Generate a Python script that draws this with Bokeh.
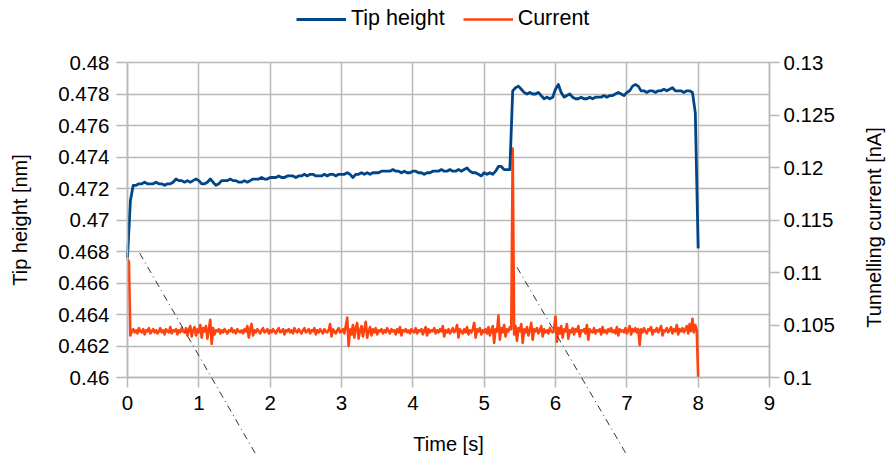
import math
from bokeh.plotting import figure
from bokeh.models import (Range1d, LinearAxis, FixedTicker, PrintfTickFormatter,
                          Legend, LegendItem, Arrow, ColumnDataSource, Grid, Label)
from bokeh.embed import file_html
from bokeh.resources import INLINE

# ---------------- data ----------------
time_height_s = [round(0.04 * i, 2) for i in range(201)]
time_current_s = [round(0.02 * i, 2) for i in range(401)]

tip_height_nm = [
    0.4676, 0.4712, 0.4722, 0.4722, 0.4723, 0.4723, 0.4724, 0.4723, 0.4723, 0.4723,
    0.4724, 0.4723, 0.4723, 0.4722, 0.4723, 0.4723, 0.4724, 0.4726, 0.4725, 0.4725,
    0.4724, 0.4725, 0.4724, 0.4725, 0.4726, 0.4725, 0.4723, 0.4723, 0.4724, 0.4726,
    0.4724, 0.4722, 0.4723, 0.4725, 0.4725, 0.4725, 0.4726, 0.4725, 0.4725, 0.4724,
    0.4724, 0.4725, 0.4724, 0.4725, 0.4726, 0.4726, 0.4726, 0.4727, 0.4726, 0.4726,
    0.4727, 0.4727, 0.4727, 0.4728, 0.4727, 0.4727, 0.4728, 0.4728, 0.4728, 0.4727,
    0.4728, 0.4728, 0.4729, 0.4728, 0.4729, 0.4729, 0.4728, 0.4728, 0.4728, 0.4729,
    0.4728, 0.4729, 0.4729, 0.4728, 0.4729, 0.4729, 0.4729, 0.4730, 0.4729, 0.4727,
    0.4729, 0.4729, 0.4730, 0.4729, 0.4730, 0.4729, 0.4730, 0.4730, 0.4730, 0.4731,
    0.4731, 0.4731, 0.4731, 0.4732, 0.4731, 0.4731, 0.4730, 0.4731, 0.4730, 0.4730,
    0.4731, 0.4731, 0.4730, 0.4730, 0.4729, 0.4730, 0.4730, 0.4731, 0.4731, 0.4731,
    0.4732, 0.4731, 0.4731, 0.4732, 0.4731, 0.4731, 0.4732, 0.4731, 0.4732, 0.4733,
    0.4731, 0.4730, 0.4730, 0.4729, 0.4728, 0.4730, 0.4729, 0.4730, 0.4729, 0.4731,
    0.4734, 0.4734, 0.4732, 0.4732, 0.4732, 0.4782, 0.4784, 0.4785, 0.4783, 0.4781,
    0.4780, 0.4781, 0.4780, 0.4780, 0.4781, 0.4779, 0.4777, 0.4778, 0.4777, 0.4778,
    0.4783, 0.4786, 0.4781, 0.4778, 0.4779, 0.4780, 0.4778, 0.4777, 0.4777, 0.4778,
    0.4777, 0.4777, 0.4778, 0.4777, 0.4778, 0.4778, 0.4778, 0.4779, 0.4778, 0.4779,
    0.4779, 0.4780, 0.4781, 0.4780, 0.4779, 0.4781, 0.4782, 0.4785, 0.4786, 0.4785,
    0.4782, 0.4782, 0.4781, 0.4782, 0.4782, 0.4781, 0.4782, 0.4782, 0.4783, 0.4782,
    0.4783, 0.4784, 0.4782, 0.4782, 0.4782, 0.4781, 0.4782, 0.4782, 0.4781, 0.4768,
    0.4682,
]

current_nA = [
    0.1113, 0.1110, 0.1040, 0.1044, 0.1046, 0.1043, 0.1045, 0.1042, 0.1047, 0.1044,
    0.1043, 0.1046, 0.1041, 0.1045, 0.1044, 0.1047, 0.1042, 0.1044, 0.1046, 0.1043,
    0.1045, 0.1042, 0.1044, 0.1047, 0.1043, 0.1045, 0.1041, 0.1046, 0.1044, 0.1043,
    0.1048, 0.1042, 0.1045, 0.1044, 0.1046, 0.1041, 0.1045, 0.1043, 0.1047, 0.1044,
    0.1043, 0.1047, 0.1040, 0.1046, 0.1049, 0.1039, 0.1045, 0.1048, 0.1040, 0.1046,
    0.1043, 0.1050, 0.1038, 0.1047, 0.1044, 0.1049, 0.1037, 0.1046, 0.1055, 0.1032,
    0.1047, 0.1041, 0.1045, 0.1044, 0.1046, 0.1042, 0.1045, 0.1043, 0.1046, 0.1044,
    0.1042, 0.1045, 0.1044, 0.1047, 0.1043, 0.1045, 0.1042, 0.1046, 0.1044, 0.1043,
    0.1045, 0.1042, 0.1046, 0.1044, 0.1049, 0.1038, 0.1046, 0.1051, 0.1040, 0.1045,
    0.1043, 0.1046, 0.1044, 0.1042, 0.1045, 0.1047, 0.1043, 0.1044, 0.1046, 0.1042,
    0.1045, 0.1043, 0.1046, 0.1044, 0.1042, 0.1045, 0.1047, 0.1043, 0.1044, 0.1046,
    0.1041, 0.1045, 0.1044, 0.1046, 0.1043, 0.1045, 0.1042, 0.1047, 0.1044, 0.1043,
    0.1046, 0.1044, 0.1042, 0.1045, 0.1047, 0.1043, 0.1044, 0.1046, 0.1042, 0.1045,
    0.1044, 0.1047, 0.1041, 0.1045, 0.1043, 0.1046, 0.1044, 0.1042, 0.1046, 0.1044,
    0.1043, 0.1045, 0.1051, 0.1039, 0.1046, 0.1044, 0.1042, 0.1045, 0.1047, 0.1043,
    0.1044, 0.1046, 0.1042, 0.1049, 0.1057, 0.1030, 0.1046, 0.1041, 0.1050, 0.1038,
    0.1047, 0.1052, 0.1037, 0.1045, 0.1049, 0.1039, 0.1046, 0.1053, 0.1038, 0.1044,
    0.1048, 0.1040, 0.1046, 0.1043, 0.1047, 0.1041, 0.1045, 0.1044, 0.1046, 0.1042,
    0.1045, 0.1043, 0.1047, 0.1044, 0.1042, 0.1046, 0.1044, 0.1045, 0.1041, 0.1046,
    0.1043, 0.1048, 0.1040, 0.1045, 0.1044, 0.1046, 0.1043, 0.1045, 0.1042, 0.1046,
    0.1044, 0.1043, 0.1047, 0.1042, 0.1045, 0.1044, 0.1046, 0.1041, 0.1045, 0.1048,
    0.1040, 0.1046, 0.1043, 0.1045, 0.1044, 0.1047, 0.1042, 0.1045, 0.1043, 0.1046,
    0.1044, 0.1049, 0.1039, 0.1045, 0.1043, 0.1046, 0.1042, 0.1044, 0.1047, 0.1043,
    0.1045, 0.1050, 0.1038, 0.1046, 0.1044, 0.1042, 0.1046, 0.1043, 0.1048, 0.1041,
    0.1045, 0.1043, 0.1046, 0.1052, 0.1038, 0.1046, 0.1044, 0.1047, 0.1041, 0.1045,
    0.1043, 0.1046, 0.1042, 0.1048, 0.1040, 0.1045, 0.1049, 0.1033, 0.1046, 0.1044,
    0.1059, 0.1036, 0.1047, 0.1043, 0.1050, 0.1039, 0.1046, 0.1044, 0.1048, 0.1046,
    0.1218, 0.1041, 0.1049, 0.1035, 0.1047, 0.1044, 0.1051, 0.1033, 0.1046, 0.1043,
    0.1048, 0.1040, 0.1045, 0.1052, 0.1036, 0.1046, 0.1044, 0.1047, 0.1042, 0.1045,
    0.1049, 0.1039, 0.1046, 0.1043, 0.1045, 0.1042, 0.1047, 0.1044, 0.1043, 0.1046,
    0.1058, 0.1034, 0.1047, 0.1042, 0.1049, 0.1038, 0.1046, 0.1044, 0.1051, 0.1037,
    0.1045, 0.1043, 0.1047, 0.1041, 0.1046, 0.1044, 0.1049, 0.1039, 0.1045, 0.1044,
    0.1046, 0.1042, 0.1050, 0.1036, 0.1046, 0.1044, 0.1043, 0.1047, 0.1042, 0.1045,
    0.1044, 0.1046, 0.1041, 0.1048, 0.1043, 0.1045, 0.1042, 0.1046, 0.1044, 0.1047,
    0.1043, 0.1045, 0.1042, 0.1048, 0.1040, 0.1046, 0.1044, 0.1045, 0.1043, 0.1047,
    0.1042, 0.1045, 0.1049, 0.1041, 0.1046, 0.1044, 0.1047, 0.1043, 0.1046, 0.1031,
    0.1046, 0.1043, 0.1047, 0.1044, 0.1042, 0.1046, 0.1045, 0.1048, 0.1041, 0.1045,
    0.1044, 0.1047, 0.1043, 0.1046, 0.1049, 0.1040, 0.1045, 0.1044, 0.1047, 0.1043,
    0.1045, 0.1048, 0.1042, 0.1046, 0.1044, 0.1050, 0.1041, 0.1046, 0.1044, 0.1047,
    0.1043, 0.1046, 0.1049, 0.1042, 0.1051, 0.1044, 0.1056, 0.1043, 0.1050, 0.1045,
    0.1000,
]

x_ticks = [0, 1, 2, 3, 4, 5, 6, 7, 8, 9]
height_ticks = [0.46, 0.462, 0.464, 0.466, 0.468, 0.47, 0.472, 0.474, 0.476, 0.478, 0.48]
current_ticks = [0.1, 0.105, 0.11, 0.115, 0.12, 0.125, 0.13]
height_bounds = (0.46, 0.48)
current_bounds = (0.1, 0.13)
time_bounds = (0, 9)

# dash-dot guide lines (start / end in data coordinates of the left axis)
guide_x0 = [0.17, 5.46]
guide_y0 = [0.4679, 0.4670]
guide_x1 = [1.84, 7.01]
guide_y1 = [0.4548, 0.4550]

# ---------------- layout (pixels) ----------------
# the frame covers the whole canvas; the plotting area is placed inside it
LEFT_PAD, DATA_W, RIGHT_PAD = 127, 642, 117
TOP_PAD, DATA_H, BOTTOM_PAD = 62, 315, 79
FRAME_W = LEFT_PAD + DATA_W + RIGHT_PAD
FRAME_H = TOP_PAD + DATA_H + BOTTOM_PAD

t_per_px = (time_bounds[1] - time_bounds[0]) / DATA_W
h_per_px = (height_bounds[1] - height_bounds[0]) / DATA_H
c_per_px = (current_bounds[1] - current_bounds[0]) / DATA_H
x_range = Range1d(time_bounds[0] - LEFT_PAD * t_per_px,
                  time_bounds[1] + RIGHT_PAD * t_per_px)
y_range = Range1d(height_bounds[0] - BOTTOM_PAD * h_per_px,
                  height_bounds[1] + TOP_PAD * h_per_px)
c_range = Range1d(current_bounds[0] - BOTTOM_PAD * c_per_px,
                  current_bounds[1] + TOP_PAD * c_per_px)

FONT = "Liberation Sans"
GRID = "#b8b8b8"
BLUE = "#004586"
ORANGE = "#ff420e"

p = figure(frame_width=FRAME_W, frame_height=FRAME_H,
           x_range=x_range, y_range=y_range,
           output_backend="svg", toolbar_location=None,
           min_border_left=0, min_border_right=0,
           min_border_top=0, min_border_bottom=0,
           background_fill_color="white", border_fill_color="white",
           outline_line_color=None, x_axis_type=None, y_axis_type=None)
p.extra_y_ranges = {"cur": c_range}

xgrid = Grid(dimension=0, ticker=FixedTicker(ticks=x_ticks),
             bounds=time_bounds, cross_bounds=height_bounds,
             grid_line_color=GRID, grid_line_width=1.5)
ygrid = Grid(dimension=1, ticker=FixedTicker(ticks=height_ticks),
             bounds=height_bounds, cross_bounds=time_bounds,
             grid_line_color=GRID, grid_line_width=1.5)
p.add_layout(xgrid)
p.add_layout(ygrid)

cur_r = p.line(time_current_s, current_nA, y_range_name="cur", line_color=ORANGE,
               line_width=2.6, line_join="round")
tip_r = p.line(time_height_s, tip_height_nm, line_color=BLUE,
               line_width=2.8, line_join="round")

ax_x = LinearAxis(fixed_location=height_bounds[0], bounds=time_bounds,
                  axis_label="Time [s]", ticker=FixedTicker(ticks=x_ticks))
ax_l = LinearAxis(fixed_location=time_bounds[0], bounds=height_bounds,
                  axis_label="Tip height [nm]",
                  ticker=FixedTicker(ticks=height_ticks),
                  formatter=PrintfTickFormatter(format="%g"))
ax_r = LinearAxis(fixed_location=time_bounds[1], y_range_name="cur",
                  bounds=current_bounds,
                  ticker=FixedTicker(ticks=current_ticks),
                  formatter=PrintfTickFormatter(format="%g"))
p.add_layout(ax_x, "below")
p.add_layout(ax_l, "left")
p.add_layout(ax_r, "right")

for ax in [ax_x, ax_l, ax_r]:
    ax.axis_line_color = GRID
    ax.axis_line_width = 1.5
    ax.major_tick_line_color = GRID
    ax.major_tick_line_width = 1.5
    ax.minor_tick_line_color = None
    ax.major_tick_in = 0
    ax.major_label_text_font = FONT
    ax.major_label_text_font_size = "20.5px"
    ax.major_label_text_color = "#000000"
    ax.axis_label_text_font = FONT
    ax.axis_label_text_font_size = "20px"
    ax.axis_label_text_font_style = "normal"
    ax.axis_label_text_color = "#000000"

ax_x.major_tick_out = 10
ax_x.major_label_standoff = 8
ax_x.axis_label_standoff = 20
ax_l.major_tick_out = 11
ax_l.major_label_standoff = 7
ax_l.axis_label_standoff = 24
ax_r.major_tick_out = 10
ax_r.major_label_standoff = 4

# right axis title, reading bottom-to-top and centred on the plot area
p.add_layout(Label(x=FRAME_W - 13, y=FRAME_H - 227, x_units="screen", y_units="screen",
                   text="Tunnelling current [nA]", angle=math.pi / 2,
                   text_align="center", text_baseline="middle",
                   text_font=FONT, text_font_size="20px", text_color="#000000"))

guides = ColumnDataSource(dict(x0=guide_x0, y0=guide_y0, x1=guide_x1, y1=guide_y1))
p.add_layout(Arrow(end=None, x_start="x0", y_start="y0", x_end="x1", y_end="y1",
                   source=guides, line_color="#333333", line_width=1,
                   line_dash="7 4 1 4"))

legend = Legend(items=[LegendItem(label="Tip height", renderers=[tip_r]),
                       LegendItem(label="Current", renderers=[cur_r])],
                orientation="horizontal", location=(296, FRAME_H - 31),
                glyph_width=50, glyph_height=20, label_standoff=5, spacing=18,
                padding=0, margin=0, border_line_color=None,
                background_fill_alpha=0,
                label_text_font=FONT, label_text_font_size="21.5px",
                label_text_color="#000000")
p.add_layout(legend)

open("out.html", "w").write(file_html(p, INLINE))
